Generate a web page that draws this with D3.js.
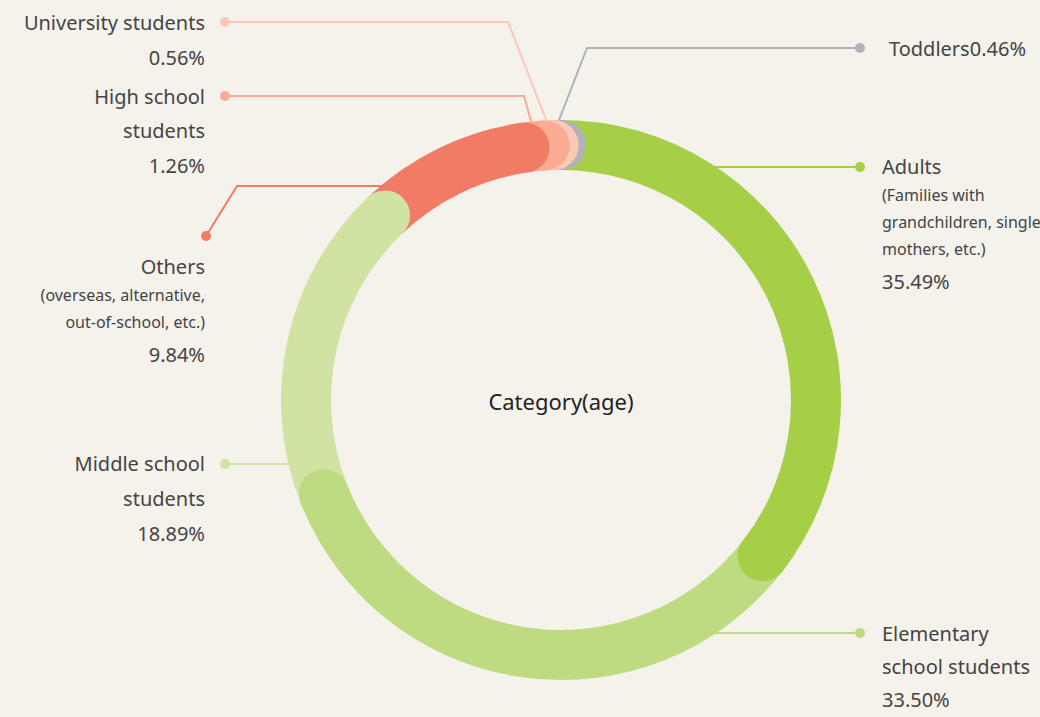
<!DOCTYPE html>
<html lang="en">
  <head>
    <meta charset="utf-8">
    <title>Category(age)</title>
    <script src="https://cdn.jsdelivr.net/npm/d3@7"></script>
    <style>
      body { margin: 0; background: #f5f2eb; }
      text { font-family: "Noto Sans", sans-serif; fill: #444; }
    </style>
  </head>
  <body>
    <script type="text/javascript">

    var w = 1040;
    var h = 717;

    // data
    var categories = ["Adults", "Elementary school students", "Middle school students",
                      "Others", "High school students", "University students", "Toddlers"];
    var values = [35.49, 33.50, 18.89, 9.84, 1.26, 0.56, 0.46];
    var colors = ["#a6ce47", "#bfdb82", "#d1e3a3", "#f27b66", "#f9ab94", "#fbc9b6", "#b2b2b9"];
    var labelLines = [
      ["Adults", "(Families with", "grandchildren, single", "mothers, etc.)", "35.49%"],
      ["Elementary", "school students", "33.50%"],
      ["Middle school", "students", "18.89%"],
      ["Others", "(overseas, alternative,", "out-of-school, etc.)", "9.84%"],
      ["High school", "students", "1.26%"],
      ["University students", "0.56%"],
      ["Toddlers0.46%"]
    ];
    var smallLines = ["(Families with", "grandchildren, single", "mothers, etc.)",
                      "(overseas, alternative,", "out-of-school, etc.)"];

    // layout for labels / leader lines
    var cx = 561, cy = 400;
    var outerR = 280, innerR = 230;
    var midR = (outerR + innerR) / 2;
    var capR = (outerR - innerR) / 2;

    var labelLayout = [
      { side: "right", dot: [860, 167], elbow: null, toAngle: false, tx: 882, ty: [167, 195, 222, 249, 282] },
      { side: "right", dot: [860, 633], elbow: null, toAngle: false, tx: 882, ty: [634, 667, 700] },
      { side: "left", dot: [225, 464], elbow: null, toAngle: false, tx: 205, ty: [464, 499, 534] },
      { side: "left", dot: [206, 236], elbow: [237, 186], toAngle: false, tx: 205, ty: [267, 295, 322, 355] },
      { side: "left", dot: [225, 96], elbow: [524, 96], toAngle: true, tx: 205, ty: [97, 131, 166] },
      { side: "left", dot: [225, 22], elbow: [508, 22], toAngle: true, tx: 205, ty: [23, 58] },
      { side: "right", dot: [860, 48], elbow: [587, 48], toAngle: true, tx: 889, ty: [49] }
    ];

    var svg = d3.select("body")
                .append("svg")
                .attr("width", w)
                .attr("height", h);

    var pie = d3.pie().sort(null).value(function(d) { return d; });
    var arcs = pie(values);

    var arc = d3.arc()
                .innerRadius(innerR)
                .outerRadius(outerR);

    function polar(r, a) {
      return [cx + r * Math.sin(a), cy - r * Math.cos(a)];
    }

    // leader lines (under the ring)
    var lineG = svg.append("g");
    arcs.forEach(function(d, i) {
      var lay = labelLayout[i];
      var pts = [lay.dot];
      if (lay.elbow) pts.push(lay.elbow);
      var last = pts[pts.length - 1];
      if (lay.toAngle) {
        pts.push(polar(outerR - 5, (d.startAngle + d.endAngle) / 2));
      } else {
        var dy = last[1] - cy;
        var dx = Math.sqrt(midR * midR - dy * dy);
        pts.push([lay.side === "right" ? cx + dx : cx - dx, last[1]]);
      }
      lineG.append("path")
           .attr("d", d3.line()(pts))
           .attr("fill", "none")
           .attr("stroke", colors[i])
           .attr("stroke-width", 2);
      lineG.append("circle")
           .attr("cx", lay.dot[0])
           .attr("cy", lay.dot[1])
           .attr("r", 5)
           .attr("fill", colors[i]);
    });

    // ring
    var ring = svg.append("g").attr("transform", "translate(" + cx + "," + cy + ")");
    ring.selectAll("path")
        .data(arcs)
        .enter()
        .append("path")
        .attr("d", arc)
        .attr("fill", function(d, i) { return colors[i]; });

    // rounded end caps, drawn last-to-first so each cap sits over the next slice
    var caps = arcs.map(function(d, i) { return { d: d, i: i }; }).reverse();
    caps.forEach(function(c) {
      var p = polar(midR, c.d.endAngle);
      svg.append("circle")
         .attr("cx", p[0])
         .attr("cy", p[1])
         .attr("r", capR)
         .attr("fill", colors[c.i]);
    });

    // labels
    labelLines.forEach(function(lines, i) {
      var lay = labelLayout[i];
      lines.forEach(function(t, j) {
        var small = smallLines.indexOf(t) >= 0;
        svg.append("text")
           .attr("x", lay.tx)
           .attr("y", lay.ty[j])
           .attr("dy", "0.35em")
           .attr("text-anchor", lay.side === "left" ? "end" : "start")
           .attr("font-size", small ? "16px" : "20px")
           .text(t);
      });
    });

    svg.append("text")
       .attr("x", cx)
       .attr("y", cy + 2)
       .attr("dy", "0.35em")
       .attr("text-anchor", "middle")
       .attr("font-size", "22px")
       .style("fill", "#222")
       .text("Category(age)");

    </script>
  </body>
</html>
